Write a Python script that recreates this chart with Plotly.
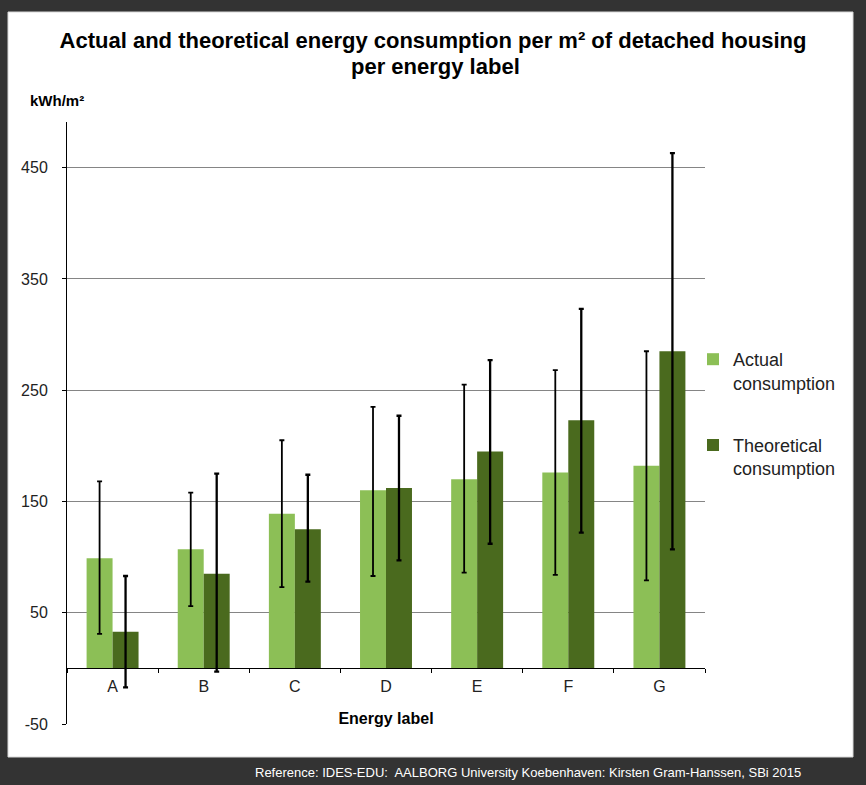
import plotly.graph_objects as go

categories = ["A", "B", "C", "D", "E", "F", "G"]
actual = [99, 107, 139, 160, 170, 176, 182]
actual_high = [168, 158, 205, 235, 255, 268, 285]
actual_low = [31, 56, 73, 83, 86, 84, 79]
theoretical = [33, 85, 125, 162, 195, 223, 285]
theoretical_high = [83, 175, 174, 227, 277, 323, 463]
theoretical_low = [-17, -3, 78, 97, 112, 122, 107]
y_ticks = [-50, 50, 150, 250, 350, 450]

W, H = 866, 785
L, R, T, B = 67, 161, 122, 61
PW, PH = W - L - R, H - T - B
Y_MIN, Y_MAX = -50, 491

def px_x(px):
    return (px - L) / PW

def px_y(py):
    return (H - B - py) / PH

FONT = "Liberation Sans, Arial, sans-serif"

light = "#8cbf56"
dark = "#4a6a1e"

fig = go.Figure()
fig.add_trace(go.Bar(
    x=categories, y=actual, name="Actual<br>consumption",
    marker=dict(color=light, line=dict(width=0)),
    legendgroup="a",
    error_y=dict(type="data", symmetric=False,
                 array=[h - v for h, v in zip(actual_high, actual)],
                 arrayminus=[v - l for v, l in zip(actual, actual_low)],
                 color="black", thickness=1.8, width=2.5),
))
fig.add_trace(go.Bar(
    x=categories, y=theoretical, name="Theoretical<br>consumption",
    marker=dict(color=dark, line=dict(width=0)),
    legendgroup="b",
    error_y=dict(type="data", symmetric=False,
                 array=[h - v for h, v in zip(theoretical_high, theoretical)],
                 arrayminus=[v - l for v, l in zip(theoretical, theoretical_low)],
                 color="black", thickness=2.3, width=2.5),
))

fig.update_layout(
    width=W, height=H,
    margin=dict(l=L, r=R, t=T, b=B, autoexpand=False),
    paper_bgcolor="#333333",
    plot_bgcolor="rgba(0,0,0,0)",
    barmode="group", bargap=0.43, bargroupgap=0,
    title=dict(
        text="Actual and theoretical energy consumption per m² of detached housing",
        x=0.5, xanchor="center", y=1 - 40 / H, yanchor="middle", yref="container",
        font=dict(family=FONT, size=22, color="black", weight="bold"),
    ),
    showlegend=True,
    legend=dict(
        x=px_x(693), y=px_y(341), xanchor="left", yanchor="top",
        font=dict(family=FONT, size=18, color="#222222"),
        bgcolor="rgba(0,0,0,0)", traceorder="grouped", tracegroupgap=36,
        valign="top", itemwidth=30,
    ),
    xaxis=dict(
        type="category", anchor="free", position=(0 - Y_MIN) / (Y_MAX - Y_MIN),
        showline=True, linecolor="black", linewidth=1,
        ticks="outside", tickson="boundaries", ticklen=4, tickcolor="black",
        tickfont=dict(family=FONT, size=16, color="#222222"),
        ticklabelstandoff=3,
        title=dict(text="Energy label", font=dict(family=FONT, size=16, color="black", weight="bold"), standoff=19),
        showgrid=False, zeroline=False,
    ),
    yaxis=dict(
        range=[Y_MIN, Y_MAX], tickvals=y_ticks, ticktext=[str(v) for v in y_ticks],
        showline=True, linecolor="black", linewidth=1,
        ticks="outside", ticklen=4, tickcolor="black",
        tickfont=dict(family=FONT, size=16, color="#222222"),
        showgrid=True, gridcolor="#858585", gridwidth=1,
        zeroline=False, ticklabelstandoff=11,
    ),
    shapes=[
        dict(type="rect", xref="paper", yref="paper",
             x0=px_x(8), x1=px_x(853), y0=px_y(757), y1=px_y(12),
             fillcolor="white", line=dict(color="#d8d8d8", width=1), layer="below"),
    ],
    annotations=[
        dict(text="<b>per energy label</b>", xref="paper", yref="paper",
             x=px_x(435), y=px_y(66), xanchor="center", yanchor="middle", showarrow=False,
             font=dict(family=FONT, size=22, color="black")),
        dict(text="<b>kWh/m²</b>", xref="paper", yref="paper",
             x=px_x(28), y=px_y(100), xanchor="left", yanchor="middle", showarrow=False,
             font=dict(family=FONT, size=15, color="black")),
        dict(text="Reference: IDES-EDU:  AALBORG University Koebenhaven: Kirsten Gram-Hanssen, SBi 2015",
             xref="paper", yref="paper", x=px_x(528), y=px_y(772),
             xanchor="center", yanchor="middle", showarrow=False,
             font=dict(family=FONT, size=13, color="white")),
    ],
)

fig.write_html("out.html", config={"displayModeBar": False},
               post_script="document.body.style.margin='0';document.body.style.background='#333333';")
